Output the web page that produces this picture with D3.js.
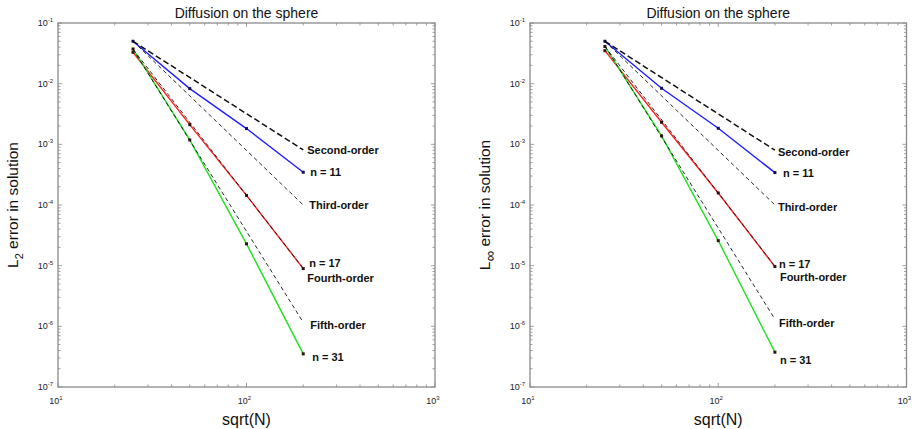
<!DOCTYPE html>
<html><head><meta charset="utf-8">
<script src="https://cdn.jsdelivr.net/npm/d3@7"></script>
<style>
html,body{margin:0;padding:0;background:#fff;}
svg{display:block;font-family:"Liberation Sans",Arial,sans-serif;}
</style></head>
<body><svg id="c" width="916" height="429"></svg>
<script>
// ---------- data ----------
const sqrtN = [25, 50, 100, 200];
const seriesNames = ["n = 11", "n = 17", "n = 31"];
const seriesColors = ["#1f1fff", "#ff2020", "#20e020"];
// L2 error
const l2_n11 = [0.050, 0.0083, 0.00182, 3.47e-4];
const l2_n17 = [0.0329, 0.00211, 1.44e-4, 8.95e-6];
const l2_n31 = [0.0373, 0.00118, 2.29e-5, 3.52e-7];
// L-infinity error
const li_n11 = [0.050, 0.0084, 0.00184, 3.42e-4];
const li_n17 = [0.035, 0.00231, 1.58e-4, 9.66e-6];
const li_n31 = [0.041, 0.00138, 2.59e-5, 3.75e-7];
// reference slopes (start at sqrt(N)=25, end at sqrt(N)=200)
const refNames = ["Second-order", "Third-order", "Fourth-order", "Fifth-order"];
const refX = [25, 200];
const l2_refStart = [0.05, 0.05, 0.037, 0.037];
const l2_refEnd = [8.1e-4, 1.0e-4, 9.0e-6, 1.16e-6];
const li_refStart = [0.05, 0.05, 0.041, 0.042];
const li_refEnd = [8.0e-4, 1.0e-4, 9.8e-6, 1.31e-6];
const xTickExps = [1, 2, 3];
const yTickExps = [-7, -6, -5, -4, -3, -2, -1];
const titleText = "Diffusion on the sphere";
const xLabelText = "sqrt(N)";

// ---------- drawing ----------
const svg = d3.select("#c");

function panel(opts) {
  const g = svg.append("g");
  const x = d3.scaleLog().domain([10, 1000]).range([opts.x0, opts.x1]);
  const y = d3.scaleLog().domain([1e-7, 1e-1]).range([387, 23]);
  const [X0, X1] = x.range(), [Y1, Y0] = y.range();

  // minor + major ticks (inward, all four sides)
  const ticks = [];
  for (let e = 1; e < 3; e++) for (let m = 1; m < 10; m++) ticks.push(m * Math.pow(10, e));
  ticks.push(1000);
  const tg = g.append("g").attr("stroke", "#888").attr("stroke-width", 0.8);
  ticks.forEach(t => {
    const major = Math.abs(Math.log10(t) - Math.round(Math.log10(t))) < 1e-9;
    const L = major ? 4 : 2.5;
    tg.append("line").attr("x1", x(t)).attr("x2", x(t)).attr("y1", Y1).attr("y2", Y1 - L);
    tg.append("line").attr("x1", x(t)).attr("x2", x(t)).attr("y1", Y0).attr("y2", Y0 + L);
  });
  const yt = [];
  for (let e = -7; e < -1; e++) for (let m = 1; m < 10; m++) yt.push(m * Math.pow(10, e));
  yt.push(0.1);
  yt.forEach(t => {
    const major = Math.abs(Math.log10(t) - Math.round(Math.log10(t))) < 1e-9;
    const L = major ? 4 : 2.5;
    tg.append("line").attr("y1", y(t)).attr("y2", y(t)).attr("x1", X0).attr("x2", X0 + L);
    tg.append("line").attr("y1", y(t)).attr("y2", y(t)).attr("x1", X1).attr("x2", X1 - L);
  });

  // frame
  g.append("rect").attr("x", X0).attr("y", Y0).attr("width", X1 - X0).attr("height", Y1 - Y0)
    .attr("fill", "none").attr("stroke", "#8a8a8a").attr("stroke-width", 1.3);

  // tick labels
  xTickExps.forEach(e => {
    const t = g.append("text").attr("x", x(Math.pow(10, e)) - 2).attr("y", 404)
      .attr("text-anchor", "middle").attr("font-size", 9).attr("fill", "#222");
    t.append("tspan").text("10");
    t.append("tspan").attr("dy", -4).attr("font-size", 6).text(e);
  });
  yTickExps.forEach(e => {
    const t = g.append("text").attr("x", X0 - 5).attr("y", y(Math.pow(10, e)) + 3)
      .attr("text-anchor", "end").attr("font-size", 9).attr("fill", "#222");
    t.append("tspan").text("10");
    t.append("tspan").attr("dy", -4).attr("font-size", 6).text(e);
  });

  // title, labels
  g.append("text").attr("x", (X0 + X1) / 2).attr("y", 18).attr("text-anchor", "middle")
    .attr("font-size", 14).attr("fill", "#111").text(titleText);
  g.append("text").attr("x", (X0 + X1) / 2).attr("y", 425).attr("text-anchor", "middle")
    .attr("font-size", 16).attr("fill", "#111").text(xLabelText);
  const yl = g.append("text").attr("transform", `translate(${X0 - 40},${(Y0 + Y1) / 2}) rotate(-90)`)
    .attr("text-anchor", "middle").attr("font-size", 15.5).attr("fill", "#111");
  yl.append("tspan").text("L");
  yl.append("tspan").attr("dy", 5).attr("font-size", opts.subSize).text(opts.sub);
  yl.append("tspan").attr("dy", -5).text(" error in solution");

  const line = d3.line().x(d => x(d[0])).y(d => y(d[1]));

  // series
  opts.series.forEach((vals, i) => {
    const pts = sqrtN.map((s, k) => [s, vals[k]]);
    g.append("path").attr("d", line(pts)).attr("fill", "none")
      .attr("stroke", seriesColors[i]).attr("stroke-width", 1.4);
    g.selectAll(null).data(pts).enter().append("rect")
      .attr("x", d => x(d[0]) - 1.5).attr("y", d => y(d[1]) - 1.5)
      .attr("width", 3).attr("height", 3)
      .attr("fill", i === 0 ? "#101050" : "#301010");
  });

  // reference lines (drawn on top)
  refNames.forEach((n, i) => {
    const pts = [[refX[0], opts.refStart[i]], [refX[1], opts.refEnd[i]]];
    g.append("path").attr("d", line(pts)).attr("fill", "none").attr("stroke", "#111")
      .attr("stroke-width", i === 0 ? 1.5 : 0.9)
      .attr("stroke-dasharray", i === 0 ? "6,3" : "4,3");
  });

  // annotations
  const xEnd = x(200);
  opts.labels.forEach(l => {
    g.append("text").attr("x", xEnd + l.dx).attr("y", y(l.v) + l.dy + 4)
      .attr("font-size", 11).attr("font-weight", "bold").attr("fill", "#111").text(l.t);
  });
}

panel({
  x0: 58, x1: 435, sub: "2", subSize: 11,
  series: [l2_n11, l2_n17, l2_n31],
  refStart: l2_refStart, refEnd: l2_refEnd,
  labels: [
    {t: refNames[0], v: l2_refEnd[0], dx: 4, dy: 0},
    {t: seriesNames[0], v: l2_n11[3], dx: 7, dy: 0},
    {t: refNames[1], v: l2_refEnd[1], dx: 6, dy: 0},
    {t: seriesNames[1], v: l2_n17[3], dx: 6, dy: -6},
    {t: refNames[2], v: l2_refEnd[2], dx: 4, dy: 10},
    {t: refNames[3], v: l2_refEnd[3], dx: 7, dy: 3},
    {t: seriesNames[2], v: l2_n31[3], dx: 9, dy: 3}
  ]
});
panel({
  x0: 530, x1: 906.5, sub: "\u221E", subSize: 15,
  series: [li_n11, li_n17, li_n31],
  refStart: li_refStart, refEnd: li_refEnd,
  labels: [
    {t: refNames[0], v: li_refEnd[0], dx: 3, dy: 2},
    {t: seriesNames[0], v: li_n11[3], dx: 8, dy: 0},
    {t: refNames[1], v: li_refEnd[1], dx: 3, dy: 1.5},
    {t: seriesNames[1], v: li_n17[3], dx: 4, dy: -3},
    {t: refNames[2], v: li_refEnd[2], dx: 5, dy: 11},
    {t: refNames[3], v: li_refEnd[3], dx: 4, dy: 4},
    {t: seriesNames[2], v: li_n31[3], dx: 5, dy: 8}
  ]
});
</script></body></html>
